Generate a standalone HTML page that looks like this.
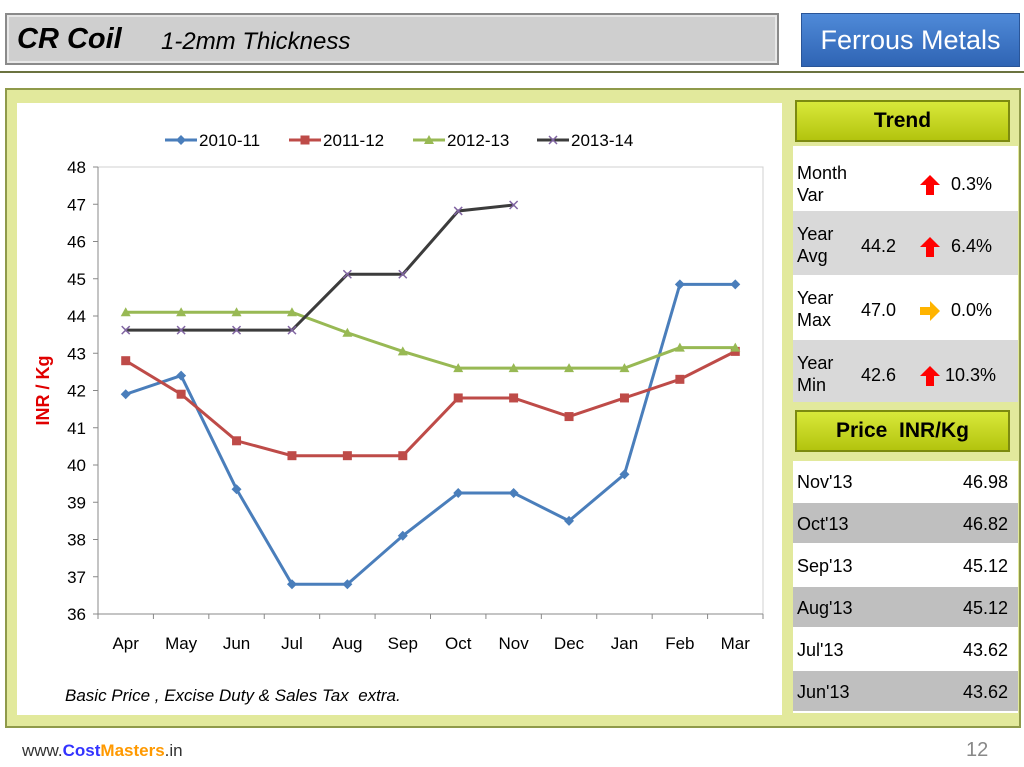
<!DOCTYPE html>
<html><head><meta charset="utf-8"><style>
body{margin:0;width:1024px;height:767px;background:#fff;position:relative;font-family:"Liberation Sans",sans-serif;overflow:hidden}
.abs{position:absolute}
.title{left:5px;top:13px;width:770px;height:48px;background:#cfcfcf;border:2px solid #8a8a8a;box-shadow:inset 0 0 0 2px #e8e8e8}
.btn{left:801px;top:13px;width:217px;height:52px;background:linear-gradient(#4f8ad8,#2f64b4);border:1px solid #2a5598;color:#fff;font-size:27px;text-align:center;line-height:52px}
.panel{left:5px;top:88px;width:1012px;height:636px;background:#e2e99c;border:2px solid #8f9a4a}
.hdr{background:linear-gradient(#d8e83a,#b3c40e);border:2px solid #7c8a10;font-weight:bold;font-size:21px;text-align:center;color:#000}
.row{position:absolute;left:0;width:225px;font-size:18px;color:#000}
</style></head><body>
<div class="abs title"><span class="abs" style="left:10px;top:8px;font-size:29px;font-style:italic;font-weight:bold">CR Coil</span><span class="abs" style="left:154px;top:13px;font-size:24px;font-style:italic">1-2mm Thickness</span></div>
<div class="abs btn">Ferrous Metals</div>
<div class="abs" style="left:0;top:71px;width:1024px;height:2px;background:#6b7340"></div>
<div class="abs panel"></div>
<div class="abs" style="left:17px;top:103px;width:765px;height:612px;background:#fff">
<svg id="chart" width="765" height="612" style="position:absolute;left:0;top:0"></svg>
<div class="abs" style="left:48px;top:583px;font-size:17px;font-style:italic;white-space:pre">Basic Price , Excise Duty &amp; Sales Tax  extra.</div>
</div>
<div class="abs hdr" style="left:795px;top:100px;width:211px;height:38px;line-height:38px">Trend</div>
<div class="abs" style="left:793px;top:146px;width:225px;height:256px;background:#fff">
<div class="row" style="top:0;height:62px"><span class="abs" style="left:4px;top:16px;line-height:22px">Month<br>Var</span><svg class="abs" style="left:126px;top:28px" width="22" height="22"><polygon points="11,1 21,11 15,11 15,21 7,21 7,11 1,11" fill="#f00"/></svg><span class="abs" style="left:158px;top:28px">0.3%</span></div>
<div class="row" style="top:65px;height:64px;background:#d9d9d9"><span class="abs" style="left:4px;top:12px;line-height:22px">Year<br>Avg</span><span class="abs" style="left:68px;top:25px">44.2</span><svg class="abs" style="left:126px;top:25px" width="22" height="22"><polygon points="11,1 21,11 15,11 15,21 7,21 7,11 1,11" fill="#f00"/></svg><span class="abs" style="left:158px;top:25px">6.4%</span></div>
<div class="row" style="top:129px;height:62px"><span class="abs" style="left:4px;top:12px;line-height:22px">Year<br>Max</span><span class="abs" style="left:68px;top:25px">47.0</span><svg class="abs" style="left:126px;top:25px" width="22" height="22"><polygon points="21,11 11,1 11,7 1,7 1,15 11,15 11,21" fill="#ffb400"/></svg><span class="abs" style="left:158px;top:25px">0.0%</span></div>
<div class="row" style="top:194px;height:62px;background:#d9d9d9"><span class="abs" style="left:4px;top:12px;line-height:22px">Year<br>Min</span><span class="abs" style="left:68px;top:25px">42.6</span><svg class="abs" style="left:126px;top:25px" width="22" height="22"><polygon points="11,1 21,11 15,11 15,21 7,21 7,11 1,11" fill="#f00"/></svg><span class="abs" style="left:152px;top:25px">10.3%</span></div>
</div>
<div class="abs hdr" style="left:795px;top:410px;width:211px;height:38px;line-height:38px">Price&nbsp; INR/Kg</div>
<div class="abs" id="ptab" style="left:793px;top:461px;width:225px;height:252px;background:#fff"></div>
<div class="abs" style="left:22px;top:741px;font-size:17px;color:#333">www.<span style="color:#3333ff;font-weight:bold">Cost</span><span style="color:#ff9900;font-weight:bold">Masters</span>.in</div>
<div class="abs" style="left:966px;top:739px;font-size:20px;color:#888">12</div>
<script>
const months=["Apr","May","Jun","Jul","Aug","Sep","Oct","Nov","Dec","Jan","Feb","Mar"];
const yTicks=[36,37,38,39,40,41,42,43,44,45,46,47,48];
const seriesNames=["2010-11","2011-12","2012-13","2013-14"];
const s2010=[41.9,42.4,39.35,36.8,36.8,38.1,39.25,39.25,38.5,39.75,44.85,44.85];
const s2011=[42.8,41.9,40.65,40.25,40.25,40.25,41.8,41.8,41.3,41.8,42.3,43.05];
const s2012=[44.1,44.1,44.1,44.1,43.55,43.05,42.6,42.6,42.6,42.6,43.15,43.15];
const s2013=[43.62,43.62,43.62,43.62,45.12,45.12,46.82,46.98];
const priceMonths=["Nov'13","Oct'13","Sep'13","Aug'13","Jul'13","Jun'13"];
const priceValues=["46.98","46.82","45.12","45.12","43.62","43.62"];
const NS="http://www.w3.org/2000/svg";
const svg=document.getElementById("chart");
const X0=81,X1=746,Y0=64,Y1=511;
const xs=i=>X0+(i+0.5)*(X1-X0)/months.length;
const ys=v=>Y1-(v-36)/(48-36)*(Y1-Y0);
function mk(t,a,p){const e=document.createElementNS(NS,t);for(const k in a)e.setAttribute(k,a[k]);(p||svg).appendChild(e);return e;}
let e;
e=mk("rect",{x:X0,y:Y0,width:X1-X0,height:Y1-Y0,fill:"none",stroke:"#d0d0d0"});


e=mk("line",{x1:X0,y1:Y0,x2:X0,y2:Y1,stroke:"#888"});


e=mk("line",{x1:X0,y1:Y1,x2:X1,y2:Y1,stroke:"#888"});


yTicks.forEach(v=>{mk("line",{x1:X0-5,y1:ys(v),x2:X0,y2:ys(v),stroke:"#888"});
e=mk("text",{x:X0-12,y:ys(v)+6,"text-anchor":"end","font-size":"17"});e.textContent=v;

});
for(let i=0;i<=months.length;i++)mk("line",{x1:X0+i*(X1-X0)/12,y1:Y1,x2:X0+i*(X1-X0)/12,y2:Y1+5,stroke:"#888"});
months.forEach((m,i)=>{e=mk("text",{x:xs(i),y:Y1+35,"text-anchor":"middle","font-size":"17"});e.textContent=m;

});
e=mk("text",{x:32,y:(Y0+Y1)/2,transform:`rotate(-90 32 ${(Y0+Y1)/2})`,"text-anchor":"middle","font-size":"18","font-weight":"bold",fill:"#e00000"});e.textContent="INR / Kg";


const cols=["#4a7ebb","#be4b48","#98b954","#3c3c3c"];
function marker(t,x,y,c,g){
 if(t==0)mk("polygon",{points:`${x},${y-5} ${x+5},${y} ${x},${y+5} ${x-5},${y}`,fill:c},g);
 else if(t==1)mk("rect",{x:x-4.5,y:y-4.5,width:9,height:9,fill:c},g);
 else if(t==2)mk("polygon",{points:`${x},${y-5} ${x+5},${y+4} ${x-5},${y+4}`,fill:c},g);
 else{mk("line",{x1:x-4,y1:y-4,x2:x+4,y2:y+4,stroke:"#8064a2","stroke-width":1.5},g);mk("line",{x1:x-4,y1:y+4,x2:x+4,y2:y-4,stroke:"#8064a2","stroke-width":1.5},g);}
}
[s2010,s2011,s2012,s2013].forEach((d,k)=>{
 const g=mk("g",{});
 
 
 mk("polyline",{points:d.map((v,i)=>xs(i)+","+ys(v)).join(" "),fill:"none",stroke:cols[k],"stroke-width":3},g);
 d.forEach((v,i)=>marker(k,xs(i),ys(v),cols[k],g));
 const lx=148+k*124;
 const lg=mk("g",{});
 
 
 mk("line",{x1:lx,y1:37,x2:lx+32,y2:37,stroke:cols[k],"stroke-width":3},lg);
 marker(k,lx+16,37,cols[k],lg);
 const t=mk("text",{x:lx+34,y:43,"font-size":"17"},lg);t.textContent=seriesNames[k];
});
const pt=document.getElementById("ptab");
priceMonths.forEach((m,i)=>{
 const r=document.createElement("div");
 r.className="row";
 r.style.top=(i*42)+"px";r.style.height="40px";
 if(i%2)r.style.background="#bfbfbf";
 r.innerHTML=`<span class="abs" style="left:4px;top:11px">${m}</span><span class="abs" style="right:10px;top:11px">${priceValues[i]}</span>`;
 
 
 pt.appendChild(r);
});
</script>
</body></html>
